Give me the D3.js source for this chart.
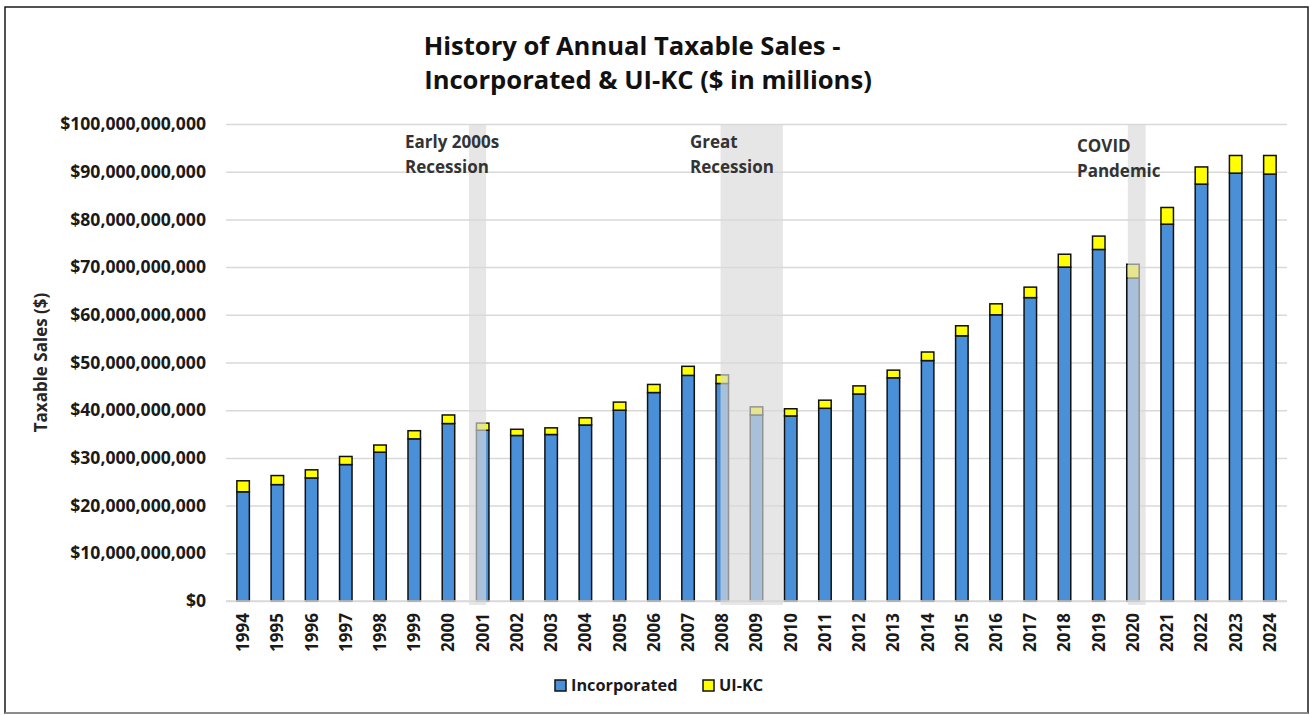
<!DOCTYPE html>
<html>
<head>
<meta charset="utf-8">
<script src="https://cdn.jsdelivr.net/npm/d3@7/dist/d3.min.js"></script>
<style>
  html, body { margin: 0; padding: 0; background: #fff; }
  svg { display: block; font-family: "Open Sans", "Noto Sans", sans-serif; }
</style>
</head>
<body>
<svg id="chart" width="1310" height="715"></svg>
<script>
// ---------------- data ----------------
const years = [1994,1995,1996,1997,1998,1999,2000,2001,2002,2003,2004,2005,2006,2007,2008,2009,2010,2011,2012,2013,2014,2015,2016,2017,2018,2019,2020,2021,2022,2023,2024];
// Incorporated taxable sales (billions of $)
const incorporated = [22.9,24.4,25.8,28.6,31.2,34.0,37.2,35.8,34.7,34.9,36.9,40.0,43.7,47.3,45.6,39.0,38.8,40.4,43.4,46.8,50.4,55.6,60.0,63.6,70.0,73.7,67.7,79.0,87.4,89.7,89.5];
// Unincorporated King County taxable sales (billions of $)
const uikc = [2.3,1.9,1.7,1.7,1.5,1.7,1.8,1.5,1.3,1.4,1.5,1.7,1.7,1.9,1.8,1.7,1.5,1.7,1.7,1.6,1.8,2.1,2.3,2.2,2.7,2.8,2.9,3.5,3.6,3.7,3.9];
const seriesNames = ["Incorporated", "UI-KC"];
const yTicks = [0,10,20,30,40,50,60,70,80,90,100]; // billions
const recessionLabels = [["Early 2000s","Recession"],["Great","Recession"],["COVID","Pandemic"]];
const recessionStart = [2001.1, 2008.45, 2020.35];
const recessionEnd = [2001.6, 2010.27, 2020.87];
const titleLines = ["History of Annual Taxable Sales -", "Incorporated & UI-KC ($ in millions)"];
const yAxisTitle = "Taxable Sales ($)";

// ---------------- layout ----------------
const svg = d3.select("#chart");
const W = 1310, H = 715;
const plot = {left: 226, right: 1287, top: 124, bottom: 601};
const colors = {inc: "#4a90d9", uikc: "#ffff00"};

// frame
svg.append("rect").attr("x", 0).attr("y", 0).attr("width", W).attr("height", H).attr("fill", "#fff");
svg.append("rect").attr("x", 5).attr("y", 7).attr("width", 1303).attr("height", 706)
  .attr("fill", "none").attr("stroke", "#1a1a1a").attr("stroke-width", 1.5);
svg.append("line").attr("x1", 5).attr("x2", 1308).attr("y1", 713).attr("y2", 713)
  .attr("stroke", "#a0a0a0").attr("stroke-width", 1.5);

const x = d3.scaleBand().domain(years).range([plot.left, plot.right])
  .paddingInner(0.635).paddingOuter(0.3175);
const xt = d3.scaleLinear().domain([years[0], years[years.length-1] + 1]).range([plot.left, plot.right]);
const y = d3.scaleLinear().domain([0, 100]).range([plot.bottom, plot.top]);

// gridlines
const yAxis = d3.axisLeft(y).tickValues(yTicks).tickSize(-(plot.right - plot.left)).tickPadding(20)
  .tickFormat(d => "$" + d3.format(",")(d * 1e9));
const gy = svg.append("g").attr("transform", `translate(${plot.left},0)`).call(yAxis);
gy.select(".domain").remove();
gy.selectAll(".tick line").attr("stroke", "#d9d9d9").attr("stroke-width", 1.5);
gy.selectAll(".tick text").attr("font-size", 17.6).attr("font-weight", "bold")
  .attr("fill", "#1a1a1a").attr("font-family", "'Open Sans', sans-serif");

// stacked bars
const data = years.map((yr, i) => ({year: yr, inc: incorporated[i], uikc: uikc[i]}));
const stack = d3.stack().keys(["inc", "uikc"])(data);
const gBars = svg.append("g");
stack.forEach(layer => {
  gBars.selectAll(null).data(layer).enter().append("rect")
    .attr("x", d => x(d.data.year))
    .attr("width", x.bandwidth())
    .attr("y", d => y(d[1]))
    .attr("height", d => y(d[0]) - y(d[1]))
    .attr("fill", colors[layer.key])
    .attr("stroke", "#111")
    .attr("stroke-width", 1.5);
});

// recession shading (drawn over the bars, semi-transparent)
const gRec = svg.append("g");
recessionStart.forEach((s, i) => {
  gRec.append("rect")
    .attr("x", xt(s)).attr("width", xt(recessionEnd[i]) - xt(s))
    .attr("y", y(100)).attr("height", y(0) - y(100) + 4)
    .attr("fill", "#d9d9d9").attr("fill-opacity", 0.66);
});

// x axis
const xAxis = d3.axisBottom(x).tickSize(0).tickPadding(8);
const gx = svg.append("g").attr("transform", `translate(0,${plot.bottom})`).call(xAxis);
gx.select(".domain").attr("stroke", "#d9d9d9").attr("stroke-width", 1.5)
  .attr("d", `M${plot.left},0H${plot.right}`);
gx.selectAll(".tick text")
  .attr("font-size", 17).attr("font-weight", "bold").attr("fill", "#1a1a1a")
  .attr("font-family", "'Open Sans', sans-serif")
  .attr("transform", "rotate(-90)")
  .attr("text-anchor", "end")
  .attr("x", -12).attr("y", 0).attr("dy", "0.35em");

// recession labels
const labelPos = [[405, 148], [690, 148], [1077, 152]];
recessionLabels.forEach((lines, i) => {
  const t = svg.append("text").attr("x", labelPos[i][0]).attr("y", labelPos[i][1])
    .attr("font-size", 17).attr("font-weight", "bold").attr("fill", "#333");
  lines.forEach((l, j) => t.append("tspan").attr("x", labelPos[i][0]).attr("dy", j === 0 ? 0 : 24.5).text(l));
});

// title
svg.append("text").attr("x", 632).attr("y", 55).attr("text-anchor", "middle")
  .attr("font-size", 25.6).attr("font-weight", "bold").attr("fill", "#111").text(titleLines[0]);
svg.append("text").attr("x", 648).attr("y", 89).attr("text-anchor", "middle")
  .attr("font-size", 25.6).attr("font-weight", "bold").attr("fill", "#111").text(titleLines[1]);

// y-axis title
svg.append("text").attr("transform", `translate(47,${(plot.top + plot.bottom) / 2}) rotate(-90)`)
  .attr("text-anchor", "middle").attr("font-size", 17).attr("font-weight", "bold")
  .attr("fill", "#262626").text(yAxisTitle);

// legend
const legend = svg.append("g");
const legItems = [{name: seriesNames[0], color: colors.inc, x: 555}, {name: seriesNames[1], color: colors.uikc, x: 703}];
legItems.forEach(it => {
  legend.append("rect").attr("x", it.x).attr("y", 680).attr("width", 11).attr("height", 11)
    .attr("fill", it.color).attr("stroke", "#111").attr("stroke-width", 1.5);
  legend.append("text").attr("x", it.x + 16).attr("y", 691).attr("font-size", 16.3)
    .attr("font-weight", "bold").attr("fill", "#1a1a1a").text(it.name);
});
</script>
</body>
</html>
